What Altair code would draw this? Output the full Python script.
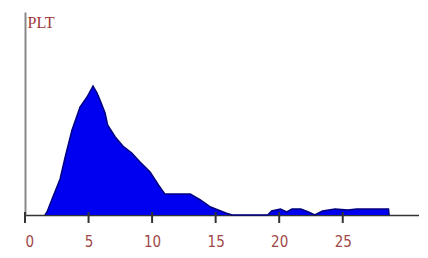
import altair as alt
import pandas as pd

xs = [1.57, 1.73, 2.1, 2.76, 3.2, 3.7, 4.33, 4.88, 5.35, 5.67, 5.9, 6.3, 6.5, 7.1, 7.7, 8.4, 9.05,
      9.84, 10.5, 11.0, 11.8, 13.0, 13.8, 14.6, 15.2, 15.8, 16.3, 19.1, 19.4, 20.1, 20.6, 21.0,
      21.7, 22.3, 22.8, 23.4, 24.4, 25.4, 26.1, 28.6, 28.65]
ys = [0, 3, 15, 36, 60, 85, 108, 118, 129, 122, 115, 102, 90, 78, 69, 62, 53,
      43, 30, 21, 21, 21, 15, 8, 5, 2, 0, 0, 4, 6, 3, 6,
      6, 3, 0, 4, 6, 5, 6, 6, 0]
ticks = [0, 5, 10, 15, 20, 25]

df = pd.DataFrame({"x": xs, "y": ys})
tdf = pd.DataFrame({"t": ticks})

area = alt.Chart(df).mark_area(
    color="#0000f0", opacity=1, line={"color": "#000080", "strokeWidth": 1.5},
    interpolate="linear"
).encode(
    x=alt.X("x:Q", scale=alt.Scale(domain=[0, 31], nice=False),
            axis=alt.Axis(values=ticks, title=None, grid=False, ticks=False,
                          domainColor="#333333", domainWidth=1.5,
                          labelColor="#a04848",
                          labelFont="DejaVu Sans Condensed", labelFontSize=15,
                          labelPadding=19)),
    y=alt.Y("y:Q", scale=alt.Scale(domain=[0, 203], nice=False),
            axis=alt.Axis(labels=False, ticks=False, grid=False, domainColor="#888888",
                          domainWidth=2, title="PLT", titleAngle=0, titleX=2, titleY=18,
                          titleAlign="left", titleColor="#a03838", titleFont="Liberation Serif",
                          titleFontSize=16, titleFontWeight="normal")),
)

tickmarks = alt.Chart(tdf).mark_rule(color="#333333", strokeWidth=2).encode(
    x="t:Q", y=alt.value(200), y2=alt.value(211)
)

chart = alt.layer(area, tickmarks).properties(
    width=394, height=203,
    autosize=alt.AutoSizeParams(type="none"),
    padding={"left": 17, "top": 4, "right": 0, "bottom": 40},
).configure_view(stroke=None)

chart.save("out.html", embed_options={"renderer": "svg", "actions": False})
